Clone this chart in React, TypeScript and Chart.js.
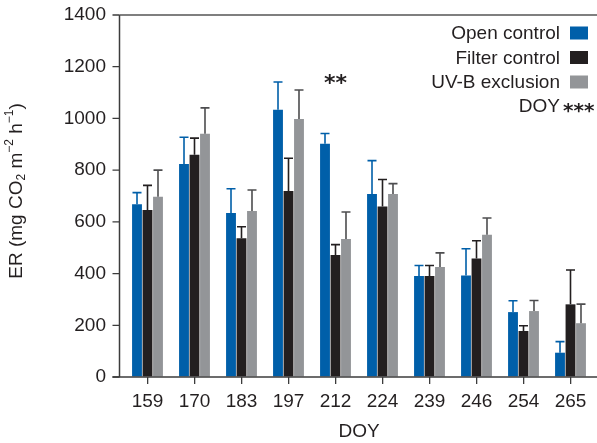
import React, { useEffect, useRef } from "react";
import { Chart, registerables } from "chart.js";

Chart.register(...registerables);

const categories = ["159", "170", "183", "197", "212", "224", "239", "246", "254", "265"];
const openControl = [668, 824, 634, 1034, 902, 708, 391, 393, 251, 94];
const openControlErr = [45, 103, 94, 107, 40, 129, 40, 103, 44, 43];
const filterControl = [646, 860, 537, 719, 472, 659, 391, 458, 178, 281];
const filterControlErr = [95, 64, 44, 127, 40, 105, 40, 69, 20, 133];
const uvbExclusion = [697, 941, 642, 998, 534, 708, 425, 550, 255, 208];
const uvbExclusionErr = [103, 100, 81, 112, 104, 40, 55, 65, 41, 74];
const seriesLabels = ["Open control", "Filter control", "UV-B exclusion"];
const yTickValues = [0, 200, 400, 600, 800, 1000, 1200, 1400];
const sigCategory = "212";
const sigLabel = "**";
const sigValue = 1160;
const effectLabel = "DOY";
const effectStars = "***";

const BLUE = "#005fa9";
const BLACK = "#231f20";
const GRAY = "#939598";
const ERR_COLORS = [BLUE, "#231f20", "#4d4d4f"];
const FONT = "'Liberation Sans', Arial, Helvetica, sans-serif";
const TEXT = "#231f20";

const errs = [openControlErr, filterControlErr, uvbExclusionErr];

const customPlugin = {
  id: "custom",
  afterDatasetsDraw(chart: any) {
    const ctx = chart.ctx;
    const y = chart.scales.y;
    const x = chart.scales.x;
    const ca = chart.chartArea;
    ctx.save();
    // error bars
    chart.data.datasets.forEach((ds: any, i: number) => {
      const meta = chart.getDatasetMeta(i);
      meta.data.forEach((el: any, j: number) => {
        const v = ds.data[j];
        const top = y.getPixelForValue(v + errs[i][j]);
        ctx.strokeStyle = ERR_COLORS[i];
        ctx.lineWidth = 1.6;
        ctx.beginPath();
        ctx.moveTo(el.x, el.y);
        ctx.lineTo(el.x, top);
        ctx.moveTo(el.x - 4.5, top);
        ctx.lineTo(el.x + 4.5, top);
        ctx.stroke();
      });
    });
    // axes lines
    const axisX = ca.left - 4.5;
    ctx.strokeStyle = "#3c3c3c";
    ctx.lineWidth = 1.5;
    ctx.beginPath();
    ctx.moveTo(axisX, ca.top);
    ctx.lineTo(axisX, ca.bottom);
    ctx.moveTo(axisX - 7, ca.bottom);
    ctx.lineTo(chart.width, ca.bottom);
    ctx.stroke();
    ctx.strokeStyle = "#555555";
    ctx.lineWidth = 1.5;
    ctx.beginPath();
    ctx.moveTo(axisX, ca.top);
    ctx.lineTo(chart.width, ca.top);
    ctx.stroke();
    // y ticks
    ctx.strokeStyle = "#3c3c3c";
    ctx.lineWidth = 1.3;
    ctx.beginPath();
    yTickValues.forEach((v) => {
      const py = y.getPixelForValue(v);
      ctx.moveTo(axisX - 7, py);
      ctx.lineTo(axisX, py);
    });
    ctx.stroke();
    // y title
    ctx.fillStyle = TEXT;
    ctx.save();
    ctx.translate(16, 191);
    ctx.rotate(-Math.PI / 2);
    const big = "19px " + FONT;
    const small = "12px " + FONT;
    const parts: [string, string, number][] = [
      ["ER (mg CO", big, 0],
      ["2", small, 5],
      [" m", big, 0],
      ["\u22122", small, -7],
      [" h", big, 0],
      ["\u22121", small, -7],
      [")", big, 0],
    ];
    let total = 0;
    parts.forEach(([t, f]) => {
      ctx.font = f;
      total += ctx.measureText(t).width;
    });
    let cx = -total / 2;
    ctx.textBaseline = "middle";
    ctx.textAlign = "left";
    parts.forEach(([t, f, dy]) => {
      ctx.font = f;
      ctx.fillText(t, cx, dy + 1);
      cx += ctx.measureText(t).width;
    });
    ctx.restore();
    // significance
    const sx = x.getPixelForValue(categories.indexOf(sigCategory));
    const sy = y.getPixelForValue(sigValue);
    ctx.font = "bold 22px 'DejaVu Sans', sans-serif";
    ctx.textAlign = "center";
    ctx.textBaseline = "alphabetic";
    ctx.fillText(sigLabel, sx, sy + 13);
    // legend
    const colors = [BLUE, BLACK, GRAY];
    const rowY = [33, 57.5, 82];
    ctx.font = "19px " + FONT;
    ctx.textAlign = "right";
    ctx.textBaseline = "middle";
    seriesLabels.forEach((lab, i) => {
      ctx.fillStyle = TEXT;
      ctx.fillText(lab, 560, rowY[i] + 1);
      ctx.fillStyle = colors[i];
      ctx.fillRect(570, rowY[i] - 6.5, 18, 13);
    });
    ctx.fillStyle = TEXT;
    ctx.fillText(effectLabel, 560, 107);
    ctx.font = "bold 20px 'DejaVu Sans', sans-serif";
    ctx.textAlign = "left";
    ctx.textBaseline = "alphabetic";
    ctx.fillText(effectStars, 563, 106 + 11);
    ctx.restore();
  },
};

export default function App() {
  const ref = useRef<HTMLCanvasElement | null>(null);
  useEffect(() => {
    if (!ref.current) return;
    const chart = new Chart(ref.current, {
      type: "bar",
      data: {
        labels: categories,
        datasets: [
          { label: seriesLabels[0], data: openControl, backgroundColor: BLUE },
          { label: seriesLabels[1], data: filterControl, backgroundColor: BLACK },
          { label: seriesLabels[2], data: uvbExclusion, backgroundColor: GRAY },
        ],
      },
      options: {
        animation: false,
        responsive: false,
        maintainAspectRatio: false,
        devicePixelRatio: 1,
        layout: { padding: { top: 15, right: 3, left: 0, bottom: 0 } },
        datasets: { bar: { categoryPercentage: 0.67, barPercentage: 0.94, borderWidth: 0 } },
        plugins: {
          legend: { display: false },
          tooltip: { enabled: false },
        },
        scales: {
          x: {
            offset: true,
            border: { display: false },
            grid: {
              offset: false,
              drawOnChartArea: false,
              drawTicks: true,
              tickLength: 7,
              color: "#3c3c3c",
              lineWidth: 1.3,
            },
            ticks: {
              color: TEXT,
              font: { family: FONT, size: 19 },
              padding: 6,
              maxRotation: 0,
            },
            title: {
              display: true,
              text: "DOY",
              color: TEXT,
              font: { family: FONT, size: 19 },
              padding: { top: 0, bottom: 0 },
            },
            afterFit(scale: any) {
              scale.height = 66;
              scale.paddingLeft = 0;
              scale.paddingRight = 0;
            },
          },
          y: {
            min: 0,
            max: 1400,
            border: { display: false },
            grid: { display: true, drawOnChartArea: false, drawTicks: false, color: "rgba(0,0,0,0)" },
            ticks: {
              stepSize: 200,
              color: TEXT,
              font: { family: FONT, size: 19 },
              padding: 18,
              callback: (v: any) => String(v),
            },
            afterFit(scale: any) {
              scale.width = 124;
              scale.paddingTop = 0;
              scale.paddingBottom = 0;
            },
          },
        },
      },
      plugins: [customPlugin],
    });
    return () => chart.destroy();
  }, []);
  return (
    <div style={{ position: "fixed", left: 0, top: 0, width: 597, height: 443, background: "#fff" }}>
      <canvas ref={ref} width={597} height={443} style={{ width: 597, height: 443 }} />
    </div>
  );
}
